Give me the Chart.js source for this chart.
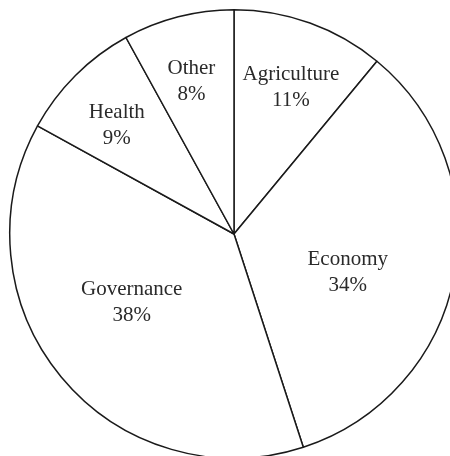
<!DOCTYPE html>
<html>
<head>
<meta charset="utf-8">
<script src="https://cdn.jsdelivr.net/npm/chart.js@4"></script>
<style>
  html, body { margin: 0; padding: 0; background: #fff; overflow: hidden; }
  #pie { display: block; }
</style>
</head>
<body>
<canvas id="pie" width="468" height="468"></canvas>
<script>
// sector data, clockwise from 12 o'clock
const categories = ["Agriculture", "Economy", "Governance", "Health", "Other"];
const shares = [11, 34, 38, 9, 8];

// label placement: fraction of radius along the mid angle, plus a small nudge
const labelRadius = [0.71, 0.53, 0.54, 0.72, 0.71];
const labelNudge = [[3, 3], [-3, 16], [-9, -9], [-3, 6], [-3, 2]];

const sliceLabels = {
  id: "sliceLabels",
  afterDatasetsDraw(chart) {
    const ctx = chart.ctx;
    const arcs = chart.getDatasetMeta(0).data;
    ctx.save();
    ctx.font = "21px 'Liberation Serif', 'Times New Roman', serif";
    ctx.fillStyle = "#2a2a2a";
    ctx.textAlign = "center";
    ctx.textBaseline = "middle";
    arcs.forEach((arc, i) => {
      const p = arc.getProps(["x", "y", "startAngle", "endAngle", "outerRadius"], true);
      const mid = (p.startAngle + p.endAngle) / 2;
      const r = p.outerRadius * labelRadius[i];
      const x = p.x + Math.cos(mid) * r + labelNudge[i][0];
      const y = p.y + Math.sin(mid) * r + labelNudge[i][1];
      ctx.fillText(categories[i], x, y - 13);
      ctx.fillText(shares[i] + "%", x, y + 13);
    });
    ctx.restore();
  },
};

new Chart(document.getElementById("pie"), {
  type: "pie",
  data: {
    labels: categories,
    datasets: [
      {
        data: shares,
        backgroundColor: "#ffffff",
        borderColor: "#1a1a1a",
        borderWidth: 1.5,
      },
    ],
  },
  options: {
    responsive: false,
    animation: false,
    layout: { padding: 9 },
    plugins: {
      legend: { display: false },
      tooltip: { enabled: false },
    },
  },
  plugins: [sliceLabels],
});
</script>
</body>
</html>
